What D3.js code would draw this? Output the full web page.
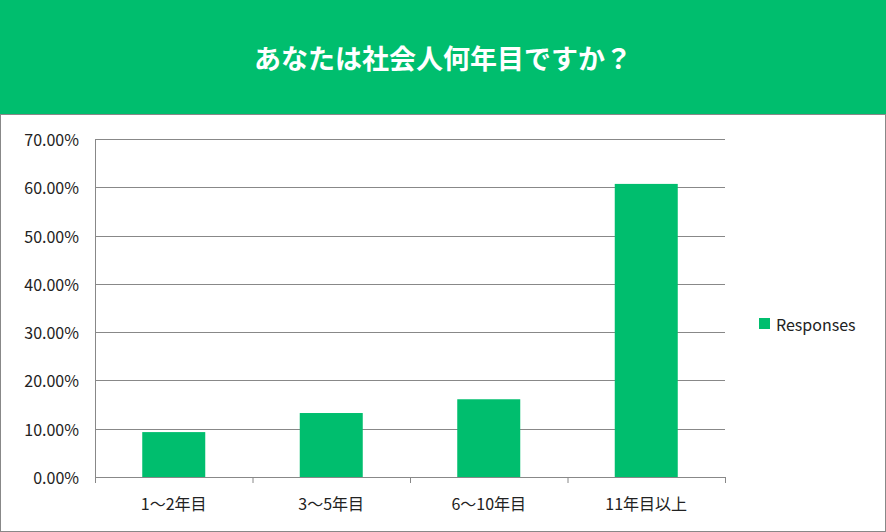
<!DOCTYPE html>
<html><head><meta charset="utf-8">
<script src="https://cdn.jsdelivr.net/npm/d3@7"></script>
<style>body{margin:0;background:#fff}svg{display:block}</style>
</head><body><svg id="c" width="886" height="532"></svg>
<script>
const title = "あなたは社会人何年目ですか？";
const categories = ["1〜2年目","3〜5年目","6〜10年目","11年目以上"];
const values = [0.093, 0.1325, 0.161, 0.607];
const yTicks = [0,0.1,0.2,0.3,0.4,0.5,0.6,0.7];
const seriesName = "Responses";
const green = "#00BE6E";
const svg = d3.select("#c");
svg.append("rect").attr("x",0).attr("y",0).attr("width",886).attr("height",114).attr("fill",green);
svg.append("rect").attr("x",0.5).attr("y",114.5).attr("width",885).attr("height",417).attr("fill","#fff").attr("stroke","#888");
svg.append("text").attr("x",443).attr("y",57).attr("text-anchor","middle").attr("dominant-baseline","central")
 .attr("fill","#fff").attr("font-family","Noto Sans CJK JP").attr("font-weight","bold").attr("font-size",27).text(title);
const x = d3.scaleBand().domain(categories).range([95,725]).paddingInner(0.6).paddingOuter(0.3);
const y = d3.scaleLinear().domain([0,0.7]).range([477,139]);
const g = svg.append("g");
g.selectAll("line.g").data(yTicks).join("line").attr("x1",95).attr("x2",725)
 .attr("y1",d=>Math.round(y(d))+0.5).attr("y2",d=>Math.round(y(d))+0.5).attr("stroke","#888");
g.append("line").attr("x1",95.5).attr("x2",95.5).attr("y1",139).attr("y2",477).attr("stroke","#888");
g.selectAll("text.y").data(yTicks).join("text").attr("x",79).attr("y",d=>y(d)).attr("text-anchor","end")
 .attr("dominant-baseline","central").attr("font-family","Noto Sans CJK JP").attr("font-size",16).attr("fill","#222")
 .text(d=>(d*100).toFixed(2)+"%");
g.selectAll("rect.b").data(values).join("rect").attr("x",(d,i)=>x(categories[i])).attr("width",x.bandwidth())
 .attr("y",d=>y(d)).attr("height",d=>y(0)-y(d)).attr("fill",green);
const xa = d3.scaleBand().domain(categories).range([95,725]);
g.selectAll("line.t").data(d3.range(5)).join("line").attr("x1",i=>95.5+i*157.5).attr("x2",i=>95.5+i*157.5)
 .attr("y1",477).attr("y2",483).attr("stroke","#888");
g.selectAll("text.x").data(categories).join("text").attr("x",d=>xa(d)+xa.bandwidth()/2).attr("y",503)
 .attr("text-anchor","middle").attr("dominant-baseline","central").attr("font-family","Noto Sans CJK JP")
 .attr("font-size",16).attr("fill","#222").text(d=>d);
svg.append("rect").attr("x",759).attr("y",318).attr("width",11).attr("height",11).attr("fill",green);
svg.append("text").attr("x",776).attr("y",324).attr("dominant-baseline","central").attr("font-family","Noto Sans CJK JP")
 .attr("font-size",16).attr("fill","#222").text(seriesName);
</script></body></html>
